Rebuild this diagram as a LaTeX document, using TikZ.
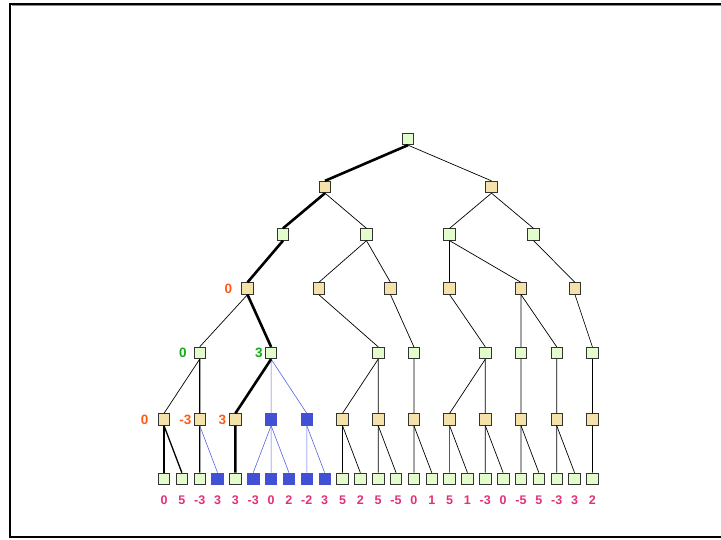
\documentclass[tikz,border=0pt]{standalone}
\usepackage{fontspec}
\newfontfamily\valfont{Liberation Sans}
\definecolor{maxfill}{RGB}{226,252,204}
\definecolor{minfill}{RGB}{244,226,168}
\definecolor{cutfill}{RGB}{66,80,214}
\definecolor{cutline}{RGB}{84,100,226}
\definecolor{minval}{RGB}{255,90,20}
\definecolor{maxval}{RGB}{20,170,20}
\definecolor{leafval}{RGB}{226,48,120}

\begin{document}
\begin{tikzpicture}[x=1pt,y=-1pt,
	sq/.style={draw=black!80,line width=0.8pt,minimum size=11.5pt,inner sep=0pt},
	maxn/.style={sq,fill=maxfill},
	minn/.style={sq,fill=minfill},
	cutn/.style={sq,fill=cutfill,draw=cutfill},
	ln/.style={line width=0.7pt},
	seen/.style={line width=1.3pt},
	best/.style={line width=2.6pt},
	cutln/.style={draw=cutline,line width=0.6pt},
	lab/.style={font=\valfont\bfseries\fontsize{13.5}{13.5}\selectfont,inner sep=0pt},
	leaflab/.style={font=\valfont\bfseries\fontsize{12.5}{12.5}\selectfont,inner sep=0pt,text=leafval,anchor=base}]
	\useasboundingbox (0,0) rectangle (721,539);
	\draw[line width=2pt] (730,3.7) -- (10.3,3.7) -- (10.3,537) -- (730,537);
	\draw[black!45,line width=1pt] (11.5,5.2) -- (730,5.2);

	\node[maxn] (r) at (408,139) {};
	\node[minn] (a1) at (325,187) {};
	\node[minn] (a2) at (491.5,187) {};
	\node[maxn] (b1) at (283,234.5) {};
	\node[maxn] (b2) at (366.5,234.5) {};
	\node[maxn] (b3) at (449.6,234.5) {};
	\node[maxn] (b4) at (533.5,234.5) {};
	\node[minn] (c1) at (247.5,288.5) {};
	\node[minn] (c2) at (318.8,288.5) {};
	\node[minn] (c3) at (390.5,288.5) {};
	\node[minn] (c4) at (449.6,288.5) {};
	\node[minn] (c5) at (521,288.5) {};
	\node[minn] (c6) at (575,288.5) {};
	\foreach \k [count=\n] in {2,6,12,14,18,20,22,24}
		\node[maxn] (d\n) at ({164+17.85*\k},353) {};
	\foreach \t [count=\n] in {minn,minn,minn,cutn,cutn,minn,minn,minn,minn,minn,minn,minn,minn}
		\node[\t] (e\n) at ({164+35.7*(\n-1)},419.5) {};
	\foreach \v/\t [count=\i from 0] in {0/maxn,5/maxn,-3/maxn,3/cutn,3/maxn,-3/cutn,0/cutn,2/cutn,-2/cutn,3/cutn,
			5/maxn,2/maxn,5/maxn,-5/maxn,0/maxn,1/maxn,5/maxn,1/maxn,-3/maxn,0/maxn,-5/maxn,5/maxn,-3/maxn,3/maxn,2/maxn} {
		\node[\t] (f\i) at ({164+17.85*\i},478.8) {};
		\node[leaflab] (v\i) at ({164+17.85*\i},504) {\v};
	}

	\foreach \p/\c in {r/a2,a1/b2,a2/b3,a2/b4,b2/c2,b2/c3,b3/c4,b3/c5,b4/c6,
			c1/d1,c2/d3,c3/d4,c4/d5,c5/d6,c5/d7,c6/d8,
			d1/e1,d3/e6,d3/e7,d4/e8,d5/e9,d5/e10,d6/e11,d7/e12,d8/e13,
			e6/f10,e6/f11,e7/f12,e7/f13,e8/f14,e8/f15,e9/f16,e9/f17,
			e10/f18,e10/f19,e11/f20,e11/f21,e12/f22,e12/f23,e13/f24}
		\draw[ln] (\p.south) -- (\c.north);
	\foreach \p/\c in {d1/e2,e1/f0,e1/f1,e2/f2}
		\draw[seen] (\p.south) -- (\c.north);
	\foreach \p/\c in {d2/e4,d2/e5,e2/f3,e4/f5,e4/f6,e4/f7,e5/f8,e5/f9}
		\draw[cutln] (\p.south) -- (\c.north);
	\foreach \p/\c in {r/a1,a1/b1,b1/c1,c1/d2,d2/e3,e3/f4}
		\draw[best] (\p.south) -- (\c.north);

	\node[lab,text=minval] (k1) at (228.3,288.5) {0};
	\node[lab,text=maxval] (k2) at (183,353) {0};
	\node[lab,text=maxval] (k3) at (259,353) {3};
	\node[lab,text=minval] (k4) at (144.7,419.5) {0};
	\node[lab,text=minval] (k5) at (185.5,419.5) {-3};
	\node[lab,text=minval] (k6) at (222.5,419.5) {3};
\end{tikzpicture}
\end{document}
